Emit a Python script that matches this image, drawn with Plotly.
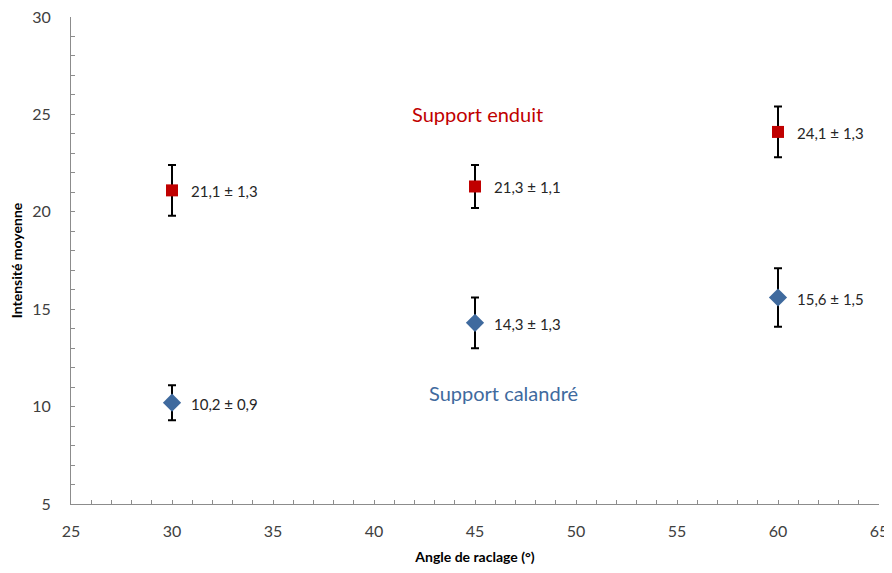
import plotly.graph_objects as go

angles = [30, 45, 60]
enduit_mean = [21.1, 21.3, 24.1]
enduit_err = [1.3, 1.1, 1.3]
calandre_mean = [10.2, 14.3, 15.6]
calandre_err = [0.9, 1.3, 1.5]

def fmt(v):
    return f"{v:.1f}".replace(".", ",")

RED = "#c00000"
BLUE = "#3f6a9e"
FONT = "Lato, 'Open Sans', sans-serif"

fig = go.Figure()
fig.add_trace(go.Scatter(
    x=angles, y=enduit_mean, mode="markers",
    marker=dict(symbol="square", size=12, color=RED),
    error_y=dict(type="data", array=enduit_err, color="black", thickness=2, width=4),
    showlegend=False, cliponaxis=False))
fig.add_trace(go.Scatter(
    x=angles, y=calandre_mean, mode="markers",
    marker=dict(symbol="diamond", size=14, color=BLUE),
    error_y=dict(type="data", array=calandre_err, color="black", thickness=2, width=4),
    showlegend=False, cliponaxis=False))

for xs, ms, es in [(angles, enduit_mean, enduit_err), (angles, calandre_mean, calandre_err)]:
    for x, m, e in zip(xs, ms, es):
        fig.add_annotation(x=x, y=m, text=f"{fmt(m)} ± {fmt(e)}", showarrow=False,
                           xanchor="left", xshift=17, yshift=-1,
                           font=dict(family=FONT, size=15, color="#262626"))

fig.add_annotation(x=45.1, y=25.0, text="Support enduit", showarrow=False,
                   font=dict(family=FONT, size=20, color=RED))
fig.add_annotation(x=46.4, y=10.7, text="Support calandré", showarrow=False,
                   font=dict(family=FONT, size=20, color=BLUE))

axis_common = dict(showgrid=False, zeroline=False, showline=True, linecolor="#8c8c8c",
                   linewidth=1, ticks="inside", ticklen=4, tickcolor="#8c8c8c",
                   automargin=False, ticklabeloverflow="allow",
                   tickfont=dict(family=FONT, size=16, color="#404040"),
                   minor=dict(ticks="inside", ticklen=4, tickcolor="#8c8c8c", dtick=1, showgrid=False))

fig.update_xaxes(range=[25, 65], dtick=5, tick0=25, ticklabelstandoff=13,
                 title=dict(text="<b>Angle de raclage (°)</b>", font=dict(family=FONT, size=14, color="black"), standoff=14),
                 **axis_common)
fig.update_yaxes(range=[5, 30], dtick=5, tick0=5, ticklabelstandoff=16,
                 title=dict(text="<b>Intensité moyenne</b>", font=dict(family=FONT, size=14, color="black"), standoff=6),
                 **axis_common)

fig.update_layout(width=884, height=557, plot_bgcolor="white", paper_bgcolor="white",
                  margin=dict(l=63, r=13, t=9, b=61))
fig.write_html("out.html")
